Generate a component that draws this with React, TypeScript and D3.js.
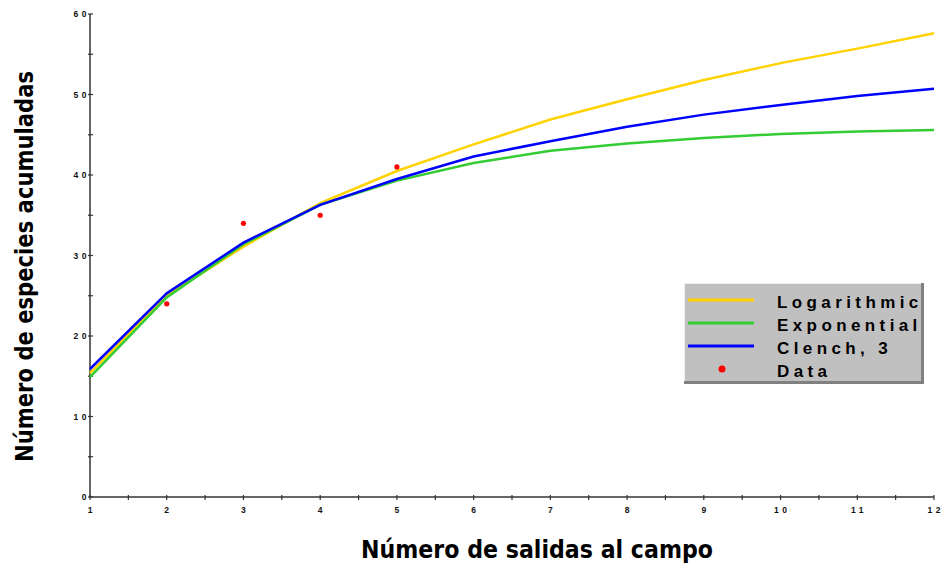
import React from "react";
import * as d3 from "d3";

const samplings = [1, 2, 3, 4, 5, 6, 7, 8, 9, 10, 11, 12];
const logarithmic = [15.4, 25.0, 31.1, 36.5, 40.5, 43.8, 46.9, 49.4, 51.8, 53.9, 55.7, 57.6];
const exponential = [14.9, 24.8, 31.4, 36.3, 39.3, 41.5, 43.0, 43.9, 44.6, 45.1, 45.4, 45.6];
const clench = [15.9, 25.3, 31.6, 36.3, 39.5, 42.3, 44.2, 46.0, 47.5, 48.7, 49.8, 50.7];
const dataX = [2, 3, 4, 5];
const dataY = [24, 34, 35, 41];
const yTicks = [0, 10, 20, 30, 40, 50, 60];
const xTicks = [1, 2, 3, 4, 5, 6, 7, 8, 9, 10, 11, 12];
const seriesNames = ["Logarithmic", "Exponential", "Clench, 3", "Data"];
const seriesColors = ["#FFD200", "#33CC33", "#0000FF", "#FF0000"];

export default function App() {
  const W = 943, H = 563;
  const x = d3.scaleLinear().domain([1, 12]).range([90, 934]);
  const y = d3.scaleLinear().domain([0, 60]).range([497, 14]);
  const line = d3.line<number>().x((_, i) => x(samplings[i])).y((d) => y(d));
  const series = [logarithmic, exponential, clench];
  const minorY = d3.range(5, 60, 10);
  const minorX = d3.range(1.5, 12, 1);
  const lblFont = "'Liberation Sans', Arial, sans-serif";
  const titleFont = "'DejaVu Sans', Verdana, sans-serif";

  const legX = 684, legY = 283, legW = 240, legH = 101;
  const rowY = [300, 323, 346, 369];

  return (
    <svg width={W} height={H} style={{ position: "absolute", left: 0, top: 0, background: "#fff" }}>
      {/* axes */}
      <line x1={90} x2={90} y1={y(60)} y2={y(0)} stroke="#333" strokeWidth={1.5} />
      <line x1={90} x2={934} y1={y(0)} y2={y(0)} stroke="#333" strokeWidth={1.5} />
      {yTicks.map((t) => (
        <g key={"yt" + t}>
          <line x1={88} x2={93} y1={y(t)} y2={y(t)} stroke="#333" strokeWidth={1.2} />
          <text x={90} y={y(t) + 3} textAnchor="end" fontFamily={lblFont} fontWeight="bold" fontSize={8.5} letterSpacing={3.5} fill="#111">
            {t}
          </text>
        </g>
      ))}
      {minorY.map((t) => (
        <line key={"ym" + t} x1={88} x2={93} y1={y(t)} y2={y(t)} stroke="#333" strokeWidth={1.2} />
      ))}
      {xTicks.map((t) => (
        <g key={"xt" + t}>
          <line x1={x(t)} x2={x(t)} y1={495} y2={500} stroke="#333" strokeWidth={1.2} />
          <text x={x(t) + 1.75} y={513} textAnchor="middle" fontFamily={lblFont} fontWeight="bold" fontSize={8.5} letterSpacing={3.5} fill="#111">
            {t}
          </text>
        </g>
      ))}
      {minorX.map((t) => (
        <line key={"xm" + t} x1={x(t)} x2={x(t)} y1={495} y2={500} stroke="#333" strokeWidth={1.2} />
      ))}

      {/* curves */}
      {series.map((s, i) => (
        <path key={"s" + i} d={line(s) || ""} fill="none" stroke={seriesColors[i]} strokeWidth={2.5} />
      ))}
      {dataX.map((dx, i) => (
        <circle key={"d" + i} cx={x(dx)} cy={y(dataY[i])} r={2.6} fill={seriesColors[3]} />
      ))}

      {/* titles */}
      <text x={537} y={558} textAnchor="middle" fontFamily={titleFont} fontWeight="bold" fontSize={25} textLength={352} lengthAdjust="spacingAndGlyphs" fill="#000">
        Número de salidas al campo
      </text>
      <text transform={`translate(32.5,266.5) rotate(-90)`} textAnchor="middle" fontFamily={titleFont} fontWeight="bold" fontSize={25} textLength={391} lengthAdjust="spacingAndGlyphs" fill="#000">
        Número de especies acumuladas
      </text>

      {/* legend */}
      <rect x={legX} y={legY} width={legW} height={legH} fill="#808080" />
      <rect x={legX} y={legY} width={legW - 3} height={legH - 3} fill="#C0C0C0" />
      <line x1={legX} x2={legX + legW - 3} y1={legY + 0.5} y2={legY + 0.5} stroke="#eee" strokeWidth={1} />
      <line x1={legX + 0.5} x2={legX + 0.5} y1={legY} y2={legY + legH - 3} stroke="#eee" strokeWidth={1} />
      {seriesNames.map((n, i) => (
        <g key={"l" + i}>
          {i < 3 ? (
            <line x1={688} x2={754} y1={rowY[i]} y2={rowY[i]} stroke={seriesColors[i]} strokeWidth={3} />
          ) : (
            <circle cx={722} cy={rowY[i]} r={3.5} fill={seriesColors[i]} />
          )}
          <text x={777} y={rowY[i] + 8} fontFamily={lblFont} fontWeight="bold" fontSize={17} letterSpacing={4.4} fill="#000">
            {n}
          </text>
        </g>
      ))}
    </svg>
  );
}
